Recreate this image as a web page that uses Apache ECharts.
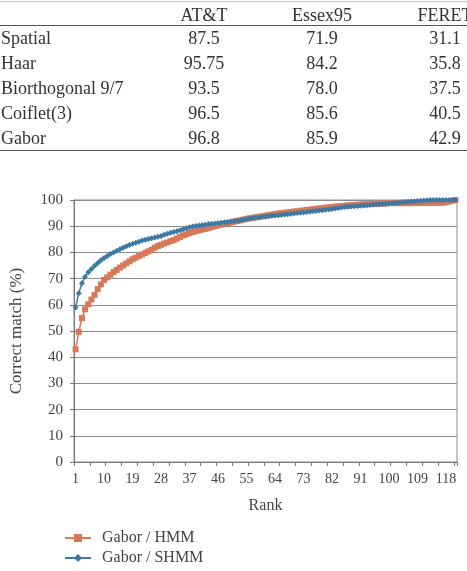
<!DOCTYPE html>
<html>
<head>
<meta charset="utf-8">
<script src="https://cdn.jsdelivr.net/npm/echarts@6/dist/echarts.min.js"></script>
<style>
html,body{margin:0;padding:0;width:467px;height:571px;overflow:hidden;background:#fff;}
#chart{position:absolute;left:0;top:0;width:467px;height:571px;}
#tbl{position:absolute;left:0;top:1px;width:509px;table-layout:fixed;border-collapse:collapse;
  font-family:'Liberation Serif';font-size:18px;color:#333;z-index:2;
  border-top:1px solid #c4c4c4;border-bottom:1.5px solid #555;}
#tbl th,#tbl td{padding:0;font-family:'Liberation Serif';font-size:18px;font-weight:normal;line-height:1;white-space:nowrap;color:#333;}
#tbl thead tr{height:24px;}
#tbl thead th{border-bottom:1.5px solid #555;padding-top:2px;}
#tbl tbody tr{height:25px;}
#tbl .lab{text-align:left;padding-left:1px;}
#tbl .num{text-align:center;}
</style>
</head>
<body>
<table id="tbl"><colgroup><col style="width:145px"><col style="width:118px"><col style="width:118px"><col style="width:128px"></colgroup><thead></thead><tbody></tbody></table>
<div id="chart"></div>
<script>
// ---- table data ----
var tableColumns = ['AT&T', 'Essex95', 'FERET'];
var tableMethods = ['Spatial', 'Haar', 'Biorthogonal 9/7', 'Coiflet(3)', 'Gabor'];
var attValues   = ['87.5', '95.75', '93.5', '96.5', '96.8'];
var essexValues = ['71.9', '84.2', '78.0', '85.6', '85.9'];
var feretValues = ['31.1', '35.8', '37.5', '40.5', '42.9'];

// ---- chart data ----
var ranks = [1,2,3,4,5,6,7,8,9,10,11,12,13,14,15,16,17,18,19,20,
  21,22,23,24,25,26,27,28,29,30,31,32,33,34,35,36,37,38,39,40,
  41,42,43,44,45,46,47,48,49,50,51,52,53,54,55,56,57,58,59,60,
  61,62,63,64,65,66,67,68,69,70,71,72,73,74,75,76,77,78,79,80,
  81,82,83,84,85,86,87,88,89,90,91,92,93,94,95,96,97,98,99,100,
  101,102,103,104,105,106,107,108,109,110,111,112,113,114,115,116,117,118,119,120,121];

var gaborHMM = [
  43.0, 49.7, 54.9, 58.3, 60.2, 62.0, 63.8, 66.0, 67.8, 69.5,
  70.5, 71.5, 72.5, 73.3, 74.2, 75.0, 75.8, 76.6, 77.4, 78.0,
  78.6, 79.2, 79.8, 80.4, 81.0, 81.8, 82.4, 82.9, 83.4, 83.8,
  84.3, 84.7, 85.3, 85.9, 86.5, 86.9, 87.4, 87.8, 88.1, 88.4,
  88.7, 89.0, 89.3, 89.7, 90.0, 90.3, 90.6, 90.9, 91.1, 91.4,
  91.7, 92.0, 92.2, 92.5, 92.8, 93.0, 93.2, 93.4, 93.6, 93.8,
  94.0, 94.2, 94.4, 94.6, 94.8, 95.0, 95.1, 95.3, 95.4, 95.6,
  95.7, 95.9, 96.0, 96.2, 96.3, 96.5, 96.6, 96.8, 96.9, 97.1,
  97.2, 97.3, 97.5, 97.6, 97.7, 97.8, 97.9, 98.0, 98.1, 98.2,
  98.3, 98.4, 98.4, 98.5, 98.5, 98.6, 98.6, 98.7, 98.7, 98.8,
  98.8, 98.8, 98.8, 98.8, 98.8, 98.8, 98.8, 98.9, 98.9, 98.9,
  98.9, 98.9, 98.9, 98.9, 98.9, 99.0, 99.0, 99.1, 99.4, 99.7, 100.0
];

var gaborSHMM = [
  59.0, 64.4, 68.2, 70.7, 72.4, 73.7, 74.9, 76.0, 77.0, 77.9,
  78.6, 79.4, 80.0, 80.6, 81.2, 81.8, 82.3, 82.8, 83.3, 83.7,
  84.1, 84.5, 84.8, 85.1, 85.4, 85.7, 86.0, 86.3, 86.7, 87.1,
  87.5, 87.8, 88.1, 88.5, 88.8, 89.2, 89.6, 89.9, 90.1, 90.3,
  90.5, 90.6, 90.8, 90.9, 91.0, 91.2, 91.3, 91.5, 91.6, 91.8,
  91.9, 92.1, 92.3, 92.5, 92.7, 92.9, 93.1, 93.3, 93.4, 93.6,
  93.7, 93.8, 94.0, 94.1, 94.2, 94.3, 94.5, 94.6, 94.7, 94.8,
  95.0, 95.1, 95.2, 95.4, 95.5, 95.7, 95.8, 96.0, 96.1, 96.3,
  96.4, 96.6, 96.8, 96.9, 97.1, 97.3, 97.4, 97.5, 97.6, 97.7,
  97.8, 97.9, 98.0, 98.1, 98.2, 98.3, 98.4, 98.5, 98.6, 98.7,
  98.8, 98.9, 99.0, 99.1, 99.2, 99.3, 99.4, 99.5, 99.6, 99.7,
  99.8, 99.9, 100, 100, 100, 100, 100, 100, 100, 100, 100
];

var yTicks = {min: 0, max: 100, interval: 10};

// ---- build table ----
(function () {
  var thead = document.querySelector('#tbl thead');
  var tbody = document.querySelector('#tbl tbody');
  var hr = document.createElement('tr');
  var th0 = document.createElement('th'); th0.className = 'lab'; hr.appendChild(th0);
  tableColumns.forEach(function (c) {
    var th = document.createElement('th'); th.className = 'num'; th.textContent = c; hr.appendChild(th);
  });
  thead.appendChild(hr);
  var cols = [attValues, essexValues, feretValues];
  tableMethods.forEach(function (m, i) {
    var tr = document.createElement('tr');
    var td = document.createElement('td'); td.className = 'lab'; td.textContent = m; tr.appendChild(td);
    cols.forEach(function (arr) {
      var c = document.createElement('td'); c.className = 'num'; c.textContent = arr[i]; tr.appendChild(c);
    });
    tbody.appendChild(tr);
  });
})();

// ---- chart ----
var chart = echarts.init(document.getElementById('chart'), null, {renderer: 'canvas'});
var serif = 'Liberation Serif';
chart.setOption({
  animation: false,
  textStyle: {fontFamily: serif},
  grid: {left: 68, right: 10, top: 200, bottom: 109, show: true, borderColor: '#8c8c8c', borderWidth: 1},
  legend: {
    orient: 'vertical', left: 64, top: 530, height: 60, padding: 0,
    itemWidth: 26, itemHeight: 10, itemGap: 4,
    textStyle: {fontFamily: serif, fontSize: 16, lineHeight: 16, color: '#444', padding: [0, 0, 0, 6]},
    data: ['Gabor / HMM', 'Gabor / SHMM']
  },
  xAxis: {
    type: 'category', data: ranks, boundaryGap: true,
    name: 'Rank', nameLocation: 'middle', nameGap: 36,
    nameTextStyle: {fontFamily: serif, fontSize: 16, color: '#444'},
    axisLine: {show: true, lineStyle: {color: '#777', width: 1}},
    axisTick: {show: true, interval: 4, length: 4, lineStyle: {color: '#777'}},
    axisLabel: {interval: 8, fontFamily: serif, fontSize: 14, color: '#444', margin: 10},
    splitLine: {show: false}
  },
  yAxis: {
    type: 'value', min: yTicks.min, max: yTicks.max, interval: yTicks.interval,
    name: 'Correct match (%)', nameLocation: 'middle', nameGap: 49, nameRotate: 90,
    nameTextStyle: {fontFamily: serif, fontSize: 17, color: '#444'},
    axisLine: {show: true, lineStyle: {color: '#777', width: 1}},
    axisTick: {show: true, length: 4, lineStyle: {color: '#777'}},
    axisLabel: {fontFamily: serif, fontSize: 15, color: '#444', margin: 11},
    splitLine: {show: true, lineStyle: {color: '#8c8c8c', width: 1.2}}
  },
  series: [
    {
      name: 'Gabor / HMM', type: 'line', data: gaborHMM,
      symbol: 'rect', symbolSize: 6, showAllSymbol: true,
      color: '#D97859',
      lineStyle: {width: 1.5, color: '#D97859'},
      itemStyle: {color: '#D97859'}
    },
    {
      name: 'Gabor / SHMM', type: 'line', data: gaborSHMM,
      symbol: 'diamond', symbolSize: 6, showAllSymbol: true,
      color: '#3C79A5',
      lineStyle: {width: 1.5, color: '#3C79A5'},
      itemStyle: {color: '#3C79A5'}
    }
  ]
});
</script>
</body>
</html>
